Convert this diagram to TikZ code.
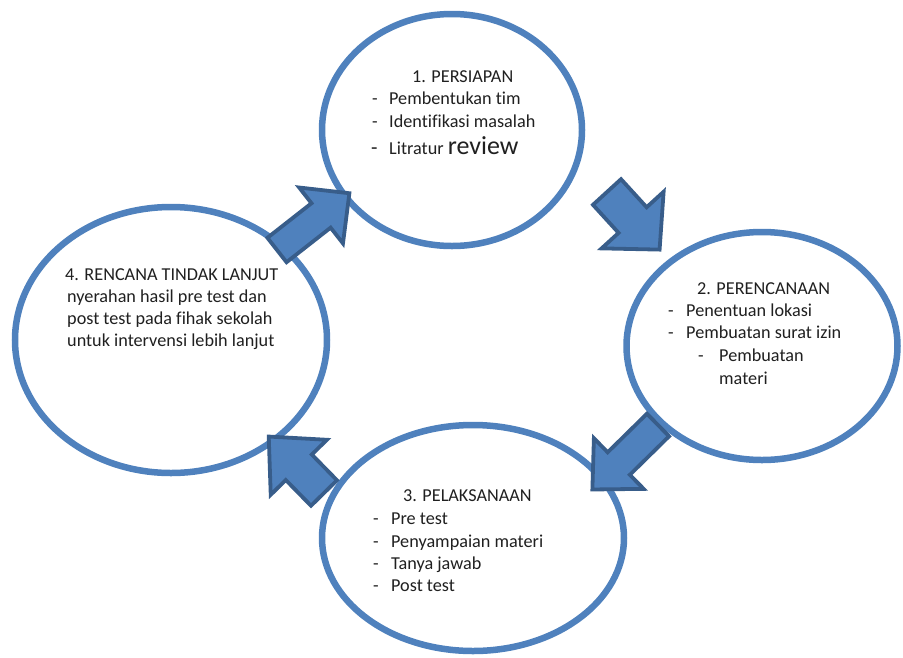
\documentclass[tikz,border=0pt]{standalone}
\usepackage{fontspec}
\setmainfont[Ligatures=NoCommon]{Carlito}
\usetikzlibrary{shapes.geometric}
\definecolor{cline}{HTML}{4F81BD}
\definecolor{afill}{HTML}{4F81BD}
\definecolor{aline}{HTML}{385D8A}
\definecolor{txt}{HTML}{202020}
\newcommand\blockarrow[7]{% x, y, angle, length, shaft half width, head half width, head base
  \path[barrow, shift={(#1,#2)}, rotate=#3]
    (0,-#5) -- (#7,-#5) -- (#7,-#6) -- (#4,0) -- (#7,#6) -- (#7,#5) -- (0,#5) -- cycle;}
\begin{document}
\begin{tikzpicture}[x=1pt,y=-1pt,
  ring/.style={ellipse, draw=cline, line width=6.5pt, fill=white, inner sep=0pt},
  lbl/.style={anchor=base west, inner sep=0pt, text=txt, font=\fontsize{18.2}{22}\selectfont},
  barrow/.style={fill=afill, draw=aline, line width=3.8pt, line join=miter}]
\useasboundingbox (0,0) rectangle (903,657);
% circles
\node[ring, minimum width=260pt, minimum height=232pt] (c1) at (452,130) {};
\node[ring, minimum width=271pt, minimum height=228pt] (c2) at (762,346) {};
\node[ring, minimum width=302pt, minimum height=226pt] (c3) at (473,538) {};
\node[ring, minimum width=312pt, minimum height=266pt] (c4) at (171,340) {};
% block arrows
\blockarrow{277}{250}{38.1}{92}{15.5}{35.5}{56}
\blockarrow{607}{192}{-47.6}{78}{19}{42}{38}
\blockarrow{658}{425}{-135.5}{92}{15.8}{35.5}{55}
\blockarrow{324}{493}{134.4}{79}{18.2}{39.3}{36}
% texts circle 1
\node[lbl] (t1) at (412,82) {1. PERSIAPAN};
\node[lbl] (t1a-d) at (372,104) {-};
\node[lbl] (t1a) at (389,104) {Pembentukan tim};
\node[lbl] (t1b-d) at (372,127) {-};
\node[lbl] (t1b) at (389,127) {Identifikasi masalah};
\node[lbl, font=\fontsize{21}{24}\selectfont] (t1c-d) at (371,154) {-};
\node[lbl] (t1c) at (389,154) {Litratur {\fontsize{26}{30}\selectfont review}};
% texts circle 2
\node[lbl] (t2) at (697,294) {2. PERENCANAAN};
\node[lbl] (t2a-d) at (668,316) {-};
\node[lbl] (t2a) at (686,316) {Penentuan lokasi};
\node[lbl] (t2b-d) at (668,338) {-};
\node[lbl] (t2b) at (686,338) {Pembuatan surat izin};
\node[lbl] (t2c-d) at (698,361) {-};
\node[lbl] (t2c) at (719,361) {Pembuatan};
\node[lbl] (t2d) at (719,384) {materi};
% texts circle 3
\node[lbl] (t3) at (403,501) {3. PELAKSANAAN};
\node[lbl] (t3a-d) at (373,524) {-};
\node[lbl] (t3a) at (391,524) {Pre test};
\node[lbl] (t3b-d) at (373,547) {-};
\node[lbl] (t3b) at (391,547) {Penyampaian materi};
\node[lbl] (t3c-d) at (373,569) {-};
\node[lbl] (t3c) at (391,569) {Tanya jawab};
\node[lbl] (t3d-d) at (373,591) {-};
\node[lbl] (t3d) at (391,591) {Post test};
% texts circle 4
\node[lbl] (t4) at (65,280) {4. RENCANA TINDAK LANJUT};
\node[lbl] (t4a) at (67,302) {nyerahan hasil pre test dan};
\node[lbl] (t4b) at (67,324) {post test pada fihak sekolah};
\node[lbl] (t4c) at (67,346) {untuk intervensi lebih lanjut};
\end{tikzpicture}
\end{document}
